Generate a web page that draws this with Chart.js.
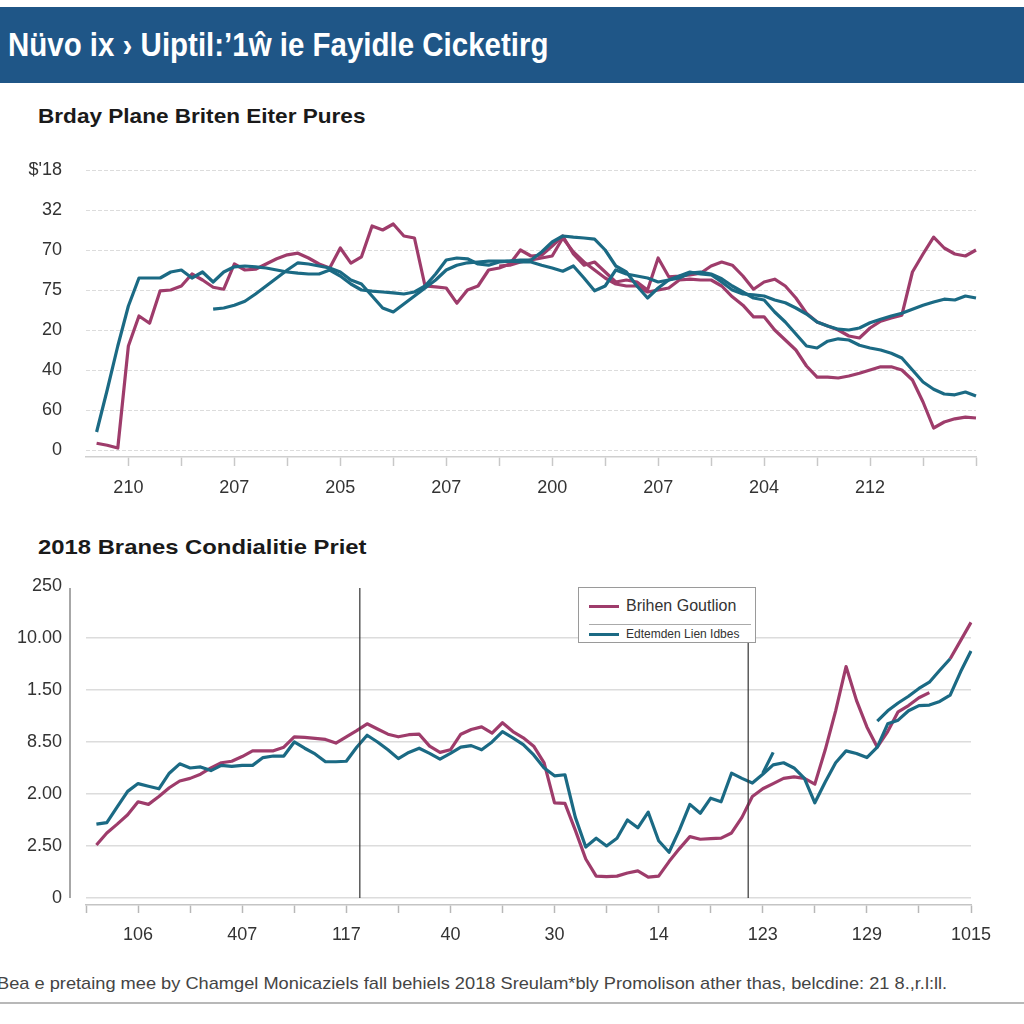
<!DOCTYPE html>
<html>
<head>
<meta charset="utf-8">
<script src="https://cdn.jsdelivr.net/npm/chart.js@4.4.1/dist/chart.umd.min.js"></script>
<style>
  html, body { margin: 0; padding: 0; background: #fff; }
  body { width: 1024px; height: 1024px; position: relative; overflow: hidden; font-family: "Liberation Sans", Arial, sans-serif; }
  #header { position: absolute; left: 0; top: 7px; width: 1024px; height: 76px; background: #1f5687; }
  .fit { position: absolute; white-space: nowrap; transform-origin: left center; }
  #title { left: 8px; top: 26px; color: #fff; font-weight: bold; font-size: 33px; line-height: 38px; }
  .ctitle { left: 38px; color: #1a1a1a; font-weight: bold; font-size: 21px; line-height: 24px; }
  #t1 { top: 104px; }
  #t2 { top: 535px; }
  #foot { left: -3px; top: 974px; color: #444; font-size: 17px; line-height: 20px; }
  #footline { position: absolute; left: 0; top: 1002px; width: 1024px; height: 2px; background: #b8b8b8; }
  .wrap { position: absolute; left: 0; width: 1024px; }
  .wrap canvas { display: block; }
  #w1 { top: 140px; height: 365px; }
  #w2 { top: 570px; height: 390px; }
  #legend { position: absolute; left: 578px; top: 587px; width: 176px; height: 54px; background: #fff; border: 1px solid #9a9a9a; z-index: 2; }
  #legend .sw { position: absolute; left: 10px; width: 30px; height: 3px; }
  #legend .tx { position: absolute; left: 47px; white-space: nowrap; color: #333; }
  #legend .sep { position: absolute; left: 10px; top: 36px; width: 162px; height: 1px; background: #aaa; }
</style>
</head>
<body>
<div id="header"></div>
<div id="title" class="fit" data-w="540">Nüvo ix › Uiptil:’1ŵ ie Fayidle Cicketirg</div>
<div id="t1" class="fit ctitle" data-w="328">Brday Plane Briten Eiter Pures</div>
<div id="t2" class="fit ctitle" data-w="328">2018 Branes Condialitie Priet</div>
<div class="wrap" id="w1"><canvas id="c1" width="1024" height="365"></canvas></div>
<div class="wrap" id="w2"><canvas id="c2" width="1024" height="390"></canvas></div>
<div id="legend">
  <div class="sw" style="top:17px;background:#9e3c6b"></div>
  <div class="tx" style="top:9px;font-size:16px">Brihen Goutlion</div>
  <div class="sep"></div>
  <div class="sw" style="top:45px;background:#1b6a84"></div>
  <div class="tx" style="top:39px;font-size:12px">Edtemden Lien Idbes</div>
</div>
<div id="foot" class="fit" data-w="950">Bea e pretaing mee by Chamgel Monicaziels fall behiels 2018 Sreulam*bly Promolison ather thas, belcdine: 21 8.,r.l:ll.</div>
<div id="footline"></div>

<script>
const MAGENTA = '#9e3c6b'
const TEAL = '#1b6a84'

function pad(n, arr) { return Array(n).fill(null).concat(arr) }

// ---- top chart ----
const yTicks1 = ['0', '60', '40', '20', '75', '70', '32', "$'18"]
const xTicks1 = ['210', '207', '205', '207', '200', '207', '204', '212']

const tealA1 = [null, 0.45, 1.5, 2.6, 3.6, 4.3, 4.3, 4.3, 4.45, 4.5, 4.3, 4.45, 4.2, 4.45, 4.58, 4.6, 4.58, 4.55, 4.5, 4.45,
  4.42, 4.4, 4.4, 4.5, 4.35, 4.15, 4.0, 3.97, 3.95, 3.93, 3.9, 3.95, 4.1, 4.4, 4.75, 4.8, 4.78, 4.65, 4.62, 4.7,
  4.72, 4.75, 4.75, 4.95, 5.2, 5.35, 5.32, 5.3, 5.27, 5.0, 4.6, 4.45, 4.1, 3.8, 4.05, 4.25, 4.35, 4.45, 4.4, 4.38,
  4.2, 4.0, 3.9, 3.88, 3.85, 3.75, 3.68, 3.55, 3.4, 3.2, 3.1, 3.02, 3.0, 3.05, 3.18, 3.27, 3.35, 3.42, 3.52, 3.62,
  3.7, 3.77, 3.75, 3.85, 3.8]
const tealB1 = pad(12, [3.52, 3.55, 3.62, 3.72, 3.9, 4.1, 4.3, 4.5, 4.68, 4.65, 4.6, 4.55, 4.45, 4.25, 4.15, 3.85,
  3.55, 3.45, 3.65, 3.85, 4.05, 4.25, 4.5, 4.62, 4.68, 4.7, 4.72, 4.72, 4.72, 4.7, 4.7, 4.62, 4.55, 4.47, 4.6, 4.3,
  3.98, 4.1, 4.5, 4.4, 4.35, 4.3, 4.2, 4.25, 4.3, 4.42, 4.45, 4.4, 4.28, 4.1, 3.95, 3.8, 3.75, 3.45, 3.2, 2.9,
  2.6, 2.55, 2.72, 2.78, 2.75, 2.62, 2.55, 2.5, 2.42, 2.3, 2.0, 1.7, 1.52, 1.4, 1.38, 1.45, 1.35])
const magentaA1 = [null, 0.17, 0.12, 0.05, 2.6, 3.35, 3.17, 3.98, 4.0, 4.1, 4.4, 4.25, 4.07, 4.02, 4.65, 4.5, 4.52, 4.65, 4.78, 4.88,
  4.92, 4.8, 4.65, 4.55, 5.05, 4.67, 4.83, 5.6, 5.5, 5.65, 5.35, 5.3, 4.1, 4.08, 4.05, 3.67, 4.0, 4.1, 4.5, 4.55,
  4.65, 5.0, 4.85, 4.87, 5.1, 5.35, 4.9, 4.62, 4.7, 4.45, 4.2, 4.25, 4.2, 4.0, 4.8, 4.33, 4.35, 4.38, 4.42, 4.6,
  4.7, 4.62, 4.35, 4.02, 4.2, 4.27, 4.1, 3.8, 3.42, 3.2, 3.1, 3.0, 2.85, 2.8, 3.05, 3.22, 3.3, 3.37, 4.45, 4.9,
  5.32, 5.05, 4.9, 4.85, 5.0]
const magentaB1 = pad(39, [4.6, 4.62, 4.7, 4.75, 4.8, 4.85, 5.3, 4.95, 4.7, 4.5, 4.3, 4.15, 4.1, 4.1, 3.95, 4.0,
  4.05, 4.25, 4.27, 4.25, 4.25, 4.1, 3.83, 3.62, 3.33, 3.33, 3.0, 2.75, 2.5, 2.1, 1.82, 1.82, 1.8, 1.85, 1.92, 2.0,
  2.08, 2.08, 2.0, 1.75, 1.2, 0.55, 0.7, 0.78, 0.82, 0.8])

// ---- bottom chart ----
const yTicks2 = ['0', '2.50', '2.00', '8.50', '1.50', '10.00', '250']
const xTicks2 = ['106', '407', '117', '40', '30', '14', '123', '129', '1015']
const markers2 = [26.3, 63.6]

const magenta2 = [null, 1.02, 1.25, 1.42, 1.6, 1.85, 1.8, 1.95, 2.12, 2.25, 2.3, 2.38, 2.5, 2.6, 2.63, 2.72, 2.83, 2.83, 2.83, 2.9,
  3.1, 3.09, 3.07, 3.05, 2.98, 3.1, 3.22, 3.35, 3.25, 3.15, 3.1, 3.14, 3.15, 2.92, 2.8, 2.85, 3.15, 3.24, 3.29, 3.17,
  3.37, 3.2, 3.08, 2.92, 2.6, 1.83, 1.82, 1.3, 0.75, 0.42, 0.41, 0.42, 0.48, 0.52, 0.4, 0.42, 0.7, 0.95, 1.18, 1.13,
  1.14, 1.15, 1.25, 1.55, 1.95, 2.1, 2.2, 2.3, 2.33, 2.3, 2.19, 2.85, 3.6, 4.45, 3.8, 3.29, 2.9, 3.2, 3.58, 3.7,
  3.85, 3.95, null, 4.6, 4.95, 5.3]
const teal2 = [null, 1.42, 1.45, 1.75, 2.05, 2.2, 2.15, 2.1, 2.4, 2.58, 2.5, 2.52, 2.45, 2.55, 2.53, 2.55, 2.55, 2.7, 2.73, 2.73,
  3.0, 2.88, 2.77, 2.62, 2.62, 2.63, 2.9, 3.13, 3.0, 2.85, 2.68, 2.8, 2.88, 2.78, 2.67, 2.78, 2.9, 2.93, 2.85, 3.0,
  3.2, 3.08, 2.95, 2.75, 2.5, 2.35, 2.37, 1.55, 0.98, 1.15, 1.0, 1.15, 1.5, 1.35, 1.65, 1.1, 0.88, 1.31, 1.8, 1.63,
  1.92, 1.85, 2.4, 2.3, 2.21, 2.38, 2.56, 2.6, 2.5, 2.3, 1.83, 2.23, 2.6, 2.83, 2.78, 2.7, 2.9, 3.35, 3.42, 3.6,
  3.7, 3.71, 3.78, 3.9, 4.35, 4.75]
const teal2Extra = pad(65, [2.4, 2.8, null, null, null, null, null, null, null, null, null,
  3.4, 3.6, 3.75, 3.88, 4.03, 4.15, 4.38, 4.6])

function line(data, color) {
  return { data: data, borderColor: color, backgroundColor: color, borderWidth: 3.2, pointRadius: 0, tension: 0, spanGaps: false, borderJoinStyle: 'round' }
}

const tickFont = { family: 'Liberation Sans, Arial, sans-serif', size: 18 }

function fixY(width) {
  return s => { s.width = width; s.paddingTop = 0; s.paddingBottom = 0 }
}
function fixX(height) {
  return s => { s.height = height; s.paddingLeft = 0; s.paddingRight = 0 }
}
// one tick per label, at 0, 1, 2 ...
function tickSet(names) {
  return s => { s.ticks = names.map((_, i) => ({ value: i })) }
}

// top chart
new Chart(document.getElementById('c1').getContext('2d'), {
  type: 'line',
  data: {
    labels: magentaA1.map((_, i) => i),
    datasets: [line(tealA1, TEAL), line(tealB1, TEAL), line(magentaA1, MAGENTA), line(magentaB1, MAGENTA)]
  },
  options: {
    responsive: false, animation: false,
    layout: { padding: { top: 22, right: 48, left: 0, bottom: 0 } },
    plugins: { legend: { display: false }, tooltip: { enabled: false } },
    scales: {
      x: {
        grid: { drawOnChartArea: false, drawTicks: true, tickLength: 9, tickWidth: 1.5,
          tickColor: c => (c.index - 4) % 5 === 0 && c.index >= 4 ? '#c8c8c8' : 'rgba(0,0,0,0)' },
        border: { display: true, color: '#cfcfcf', width: 1.5 },
        ticks: {
          autoSkip: false, maxRotation: 0, padding: 11, color: '#333', font: tickFont,
          callback: v => {
            if (v < 4 || (v - 4) % 10 !== 0) return ''
            return xTicks1[(v - 4) / 10] || ''
          }
        },
        afterFit: fixX(48)
      },
      y: {
        min: -0.175, max: 7.2, bounds: 'data',
        afterBuildTicks: tickSet(yTicks1),
        ticks: { padding: 24, color: '#333', font: tickFont, callback: v => yTicks1[v] },
        grid: { color: '#dcdcdc', drawTicks: false, lineWidth: 1 },
        border: { display: false, dash: [4, 2] },
        afterFit: fixY(86)
      }
    }
  }
})

// bottom chart: y axis line and marker lines
const markerPlugin = {
  id: 'markers',
  afterDatasetsDraw(chart) {
    const { ctx, chartArea, scales } = chart
    ctx.save()
    ctx.strokeStyle = '#8a8a8a'
    ctx.lineWidth = 1.5
    ctx.beginPath()
    ctx.moveTo(chartArea.left - 16, scales.y.getPixelForValue(6) + 2)
    ctx.lineTo(chartArea.left - 16, scales.y.getPixelForValue(0))
    ctx.stroke()
    ctx.strokeStyle = '#333'
    ctx.lineWidth = 1.2
    markers2.forEach(m => {
      const x = scales.x.getPixelForValue(m)
      ctx.beginPath()
      ctx.moveTo(x, scales.y.getPixelForValue(6) + 2)
      ctx.lineTo(x, scales.y.getPixelForValue(0))
      ctx.stroke()
    })
    ctx.restore()
  }
}

new Chart(document.getElementById('c2').getContext('2d'), {
  type: 'line',
  data: {
    labels: teal2.map((_, i) => i),
    datasets: [line(teal2, TEAL), line(teal2Extra, TEAL), line(magenta2, MAGENTA)]
  },
  options: {
    responsive: false, animation: false,
    layout: { padding: { top: 16, right: 53, left: 0, bottom: 0 } },
    plugins: { legend: { display: false }, tooltip: { enabled: false } },
    scales: {
      x: {
        grid: { drawOnChartArea: false, drawTicks: true, tickLength: 8, tickWidth: 1.5,
          tickColor: c => c.index % 5 === 0 ? '#b8b8b8' : 'rgba(0,0,0,0)' },
        border: { display: true, color: '#c4c4c4', width: 1.5 },
        ticks: {
          autoSkip: false, maxRotation: 0, padding: 11, color: '#333', font: tickFont,
          callback: v => {
            if (v < 5 || (v - 5) % 10 !== 0) return ''
            return xTicks2[(v - 5) / 10] || ''
          }
        },
        afterFit: fixX(55)
      },
      y: {
        min: -0.135, max: 6, bounds: 'data',
        afterBuildTicks: tickSet(yTicks2),
        ticks: { padding: 24, color: '#333', font: tickFont, callback: v => yTicks2[v] },
        grid: { color: c => c.tick && c.tick.value === 6 ? 'rgba(0,0,0,0)' : '#dcdcdc', drawTicks: false, lineWidth: 1.5 },
        border: { display: false },
        afterFit: fixY(86)
      }
    }
  },
  plugins: [markerPlugin]
})

document.querySelectorAll('.fit').forEach(el => {
  const w = +el.dataset.w
  el.style.transform = 'scaleX(' + (w / el.scrollWidth).toFixed(3) + ')'
})
</script>
</body>
</html>
